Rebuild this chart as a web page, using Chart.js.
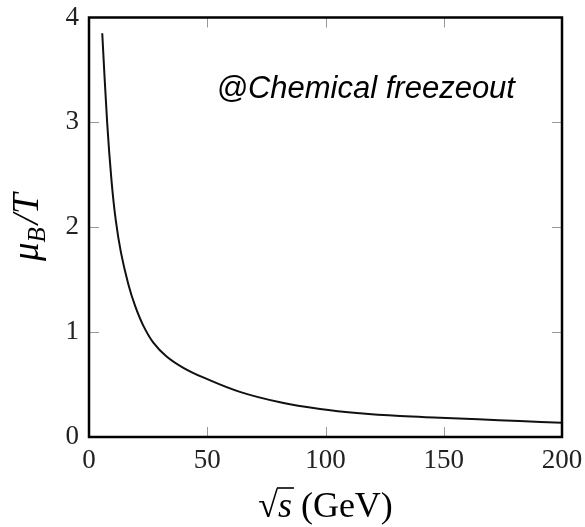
<!DOCTYPE html>
<html>
<head>
<meta charset="utf-8">
<script src="https://cdn.jsdelivr.net/npm/chart.js@4"></script>
<style>
    html, body { margin: 0; padding: 0; background: #fff; }
    canvas { display: block; }
</style>
</head>
<body>
<canvas id="freezeout-chart" width="585" height="527"></canvas>
<script>
// values
const sqrtS = [5.6, 7.7, 9.5, 11.3, 13.5, 16.6, 19.5, 23.0, 27.2, 32.8, 39.9, 48.3, 63.8, 80.8, 97.7, 114.6, 131.5, 148.4, 164.6, 182, 200];
const muOverT = [3.85, 2.99, 2.45, 2.07, 1.76, 1.46, 1.25, 1.06, 0.9, 0.768, 0.66, 0.568, 0.43, 0.331, 0.267, 0.226, 0.2, 0.184, 0.169, 0.152, 0.135];
const xTicks = [0, 50, 100, 150, 200];
const yTicks = [0, 1, 2, 3, 4];
const annotation = "@Chemical freezeout";

const serif = "'Liberation Serif', 'DejaVu Serif', serif";

const framePlugin = {
    id: "frame",
    afterDatasetsDraw(chart) {
        const { ctx, chartArea: a, scales } = chart;
        ctx.save();
        // inward tick marks on all four sides
        ctx.strokeStyle = "#999";
        ctx.lineWidth = 1;
        ctx.beginPath();
        xTicks.slice(1, -1).forEach((v) => {
            const px = Math.round(scales.x.getPixelForValue(v)) + 0.5;
            ctx.moveTo(px, a.bottom);
            ctx.lineTo(px, a.bottom - 10);
            ctx.moveTo(px, a.top);
            ctx.lineTo(px, a.top + 10);
        });
        yTicks.slice(1, -1).forEach((v) => {
            const py = Math.round(scales.y.getPixelForValue(v)) + 0.5;
            ctx.moveTo(a.left, py);
            ctx.lineTo(a.left + 10, py);
            ctx.moveTo(a.right, py);
            ctx.lineTo(a.right - 10, py);
        });
        ctx.stroke();

        // box
        ctx.strokeStyle = "#000";
        ctx.lineWidth = 2.5;
        ctx.strokeRect(a.left, a.top, a.right - a.left, a.bottom - a.top);

        // tick labels
        ctx.fillStyle = "#222";
        ctx.font = "27px " + serif;
        ctx.textAlign = "center";
        ctx.textBaseline = "top";
        xTicks.forEach((v) => {
            ctx.fillText(String(v), scales.x.getPixelForValue(v), a.bottom + 10);
        });
        ctx.textAlign = "right";
        ctx.textBaseline = "middle";
        yTicks.forEach((v) => {
            ctx.fillText(String(v), a.left - 10, scales.y.getPixelForValue(v));
        });

        // annotation
        ctx.fillStyle = "#000";
        ctx.font = "italic 31px 'Liberation Sans', Arial, sans-serif";
        ctx.textAlign = "center";
        ctx.textBaseline = "alphabetic";
        ctx.fillText(annotation, scales.x.getPixelForValue(117), 98);

        // y axis title: mu_B / T
        ctx.save();
        ctx.translate(38, (a.top + a.bottom) / 2);
        ctx.rotate(-Math.PI / 2);
        ctx.textAlign = "left";
        const mu = "μ", sub = "B", rest = "/T";
        ctx.font = "italic 37px " + serif;
        const wMu = ctx.measureText(mu).width;
        ctx.font = "italic 25px " + serif;
        const wSub = ctx.measureText(sub).width;
        ctx.font = "italic 37px " + serif;
        const wRest = ctx.measureText(rest).width;
        const x0 = -(wMu + wSub + wRest + 3) / 2;
        ctx.fillText(mu, x0, 0);
        ctx.font = "italic 25px " + serif;
        ctx.fillText(sub, x0 + wMu, 7);
        ctx.font = "italic 37px " + serif;
        ctx.fillText(rest, x0 + wMu + wSub + 3, 0);
        ctx.restore();

        // x axis title: sqrt(s) (GeV)
        const cx = (a.left + a.right) / 2;
        const base = 517;
        ctx.textAlign = "left";
        ctx.font = "36px " + serif;
        const wRad = ctx.measureText("√").width;
        ctx.font = "italic 36px " + serif;
        const wS = ctx.measureText("s").width;
        ctx.font = "36px " + serif;
        const wGev = ctx.measureText(" (GeV)").width;
        const xs = cx - (wRad + wS + wGev) / 2;
        ctx.fillText("√", xs, base);
        ctx.font = "italic 36px " + serif;
        ctx.fillText("s", xs + wRad, base);
        ctx.lineWidth = 1.6;
        ctx.beginPath();
        ctx.moveTo(xs + wRad - 1, base - 29);
        ctx.lineTo(xs + wRad + wS + 2, base - 29);
        ctx.stroke();
        ctx.font = "36px " + serif;
        ctx.fillText(" (GeV)", xs + wRad + wS, base);
        ctx.restore();
    },
};

new Chart(document.getElementById("freezeout-chart"), {
    type: "line",
    data: {
        datasets: [
            {
                data: sqrtS.map((x, i) => ({ x: x, y: muOverT[i] })),
                borderColor: "#111",
                borderWidth: 2,
                pointRadius: 0,
                fill: false,
                tension: 0.4,
            },
        ],
    },
    options: {
        responsive: false,
        animation: false,
        layout: {
            padding: { top: 17.5, right: 23, left: 0, bottom: 0 },
        },
        plugins: {
            legend: { display: false },
            tooltip: { enabled: false },
        },
        scales: {
            x: {
                type: "linear",
                min: 0,
                max: 200,
                afterFit: (scale) => { scale.height = 90; },
                afterBuildTicks: (scale) => { scale.ticks = xTicks.map((v) => ({ value: v })); },
                grid: { display: false },
                border: { display: false },
                ticks: { display: false },
            },
            y: {
                min: 0,
                max: 4,
                afterFit: (scale) => { scale.width = 89; },
                afterBuildTicks: (scale) => { scale.ticks = yTicks.map((v) => ({ value: v })); },
                grid: { display: false },
                border: { display: false },
                ticks: { display: false },
            },
        },
    },
    plugins: [framePlugin],
});
</script>
</body>
</html>
